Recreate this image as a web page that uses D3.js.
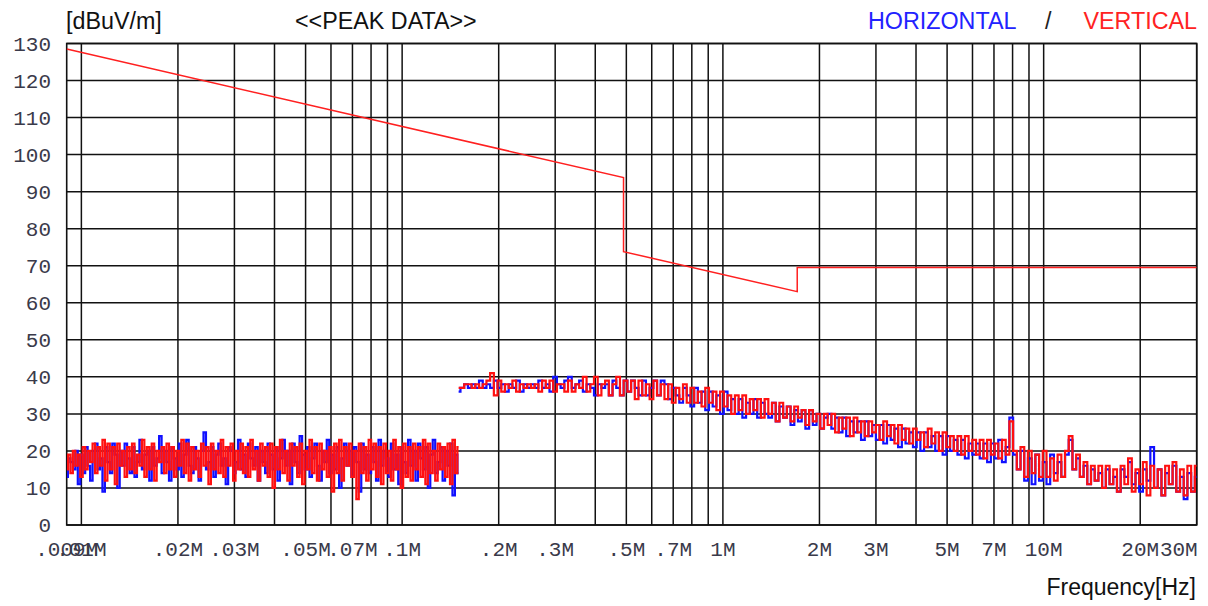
<!DOCTYPE html>
<html><head><meta charset="utf-8">
<script src="https://cdn.jsdelivr.net/npm/d3@7"></script>
<style>body{margin:0;background:#fff}svg{display:block}</style>
</head><body>
<script>
// ---- data ----
const yTickValues = [0,10,20,30,40,50,60,70,80,90,100,110,120,130];
const gridFreqs = [10e3,20e3,30e3,40e3,50e3,60e3,70e3,80e3,90e3,100e3,200e3,300e3,400e3,500e3,600e3,700e3,800e3,900e3,1e6,2e6,3e6,4e6,5e6,6e6,7e6,8e6,9e6,10e6,20e6,30e6];
const xTickFreqs = [9e3,10e3,20e3,30e3,50e3,70e3,100e3,200e3,300e3,500e3,700e3,1e6,2e6,3e6,5e6,7e6,10e6,20e6,30e6];
const xTickLabels = [".009M",".01M",".02M",".03M",".05M",".07M",".1M",".2M",".3M",".5M",".7M","1M","2M","3M","5M","7M","10M","20M","30M"];
const limitFreqs = [9e3,490e3,490e3,1705e3,1705e3,30e6];
const limitValues = [128.5,93.8,73.8,63.0,69.5,69.5];
// sweep 1: 9 kHz - 150 kHz, sweep 2: 150 kHz - 30 MHz
const sweep1 = [9e3,150e3];
const sweep2 = [150e3,30e6];
const horizontal1 = [
13,18,17,15,20,11,19,14,21,16,12,20,22,15,18,9,21,17,14,22,
19,10,20,16,22,18,14,21,13,17,23,15,19,20,12,21,16,18,24,14,
20,17,12,21,18,15,22,13,19,23,16,14,21,18,12,20,25,15,17,21,
13,19,22,16,18,11,21,20,14,17,23,15,19,13,22,18,16,21,12,20,
17,14,22,19,15,21,12,18,23,16,20,11,22,17,14,24,19,15,21,13,
18,22,16,12,20,17,23,14,19,15,21,10,18,22,16,20,13,21,17,9,
22,15,19,14,21,17,12,23,16,20,18,13,22,15,19,11,21,17,14,23,
16,20,12,22,18,15,21,10,19,23,14,17,21,12,20,16,22,8,19,14];
const vertical1 = [
15,19,14,20,16,19,13,21,15,20,17,22,14,21,16,23,12,22,15,21,
11,22,16,20,13,21,15,22,14,19,16,23,13,21,15,22,12,20,17,21,
14,22,15,21,13,20,16,23,14,22,12,21,15,20,13,22,16,21,11,22,
15,20,14,23,13,21,16,22,12,20,15,22,14,21,13,23,15,20,12,22,
16,21,13,22,10,21,15,23,14,20,12,22,16,21,13,22,11,20,15,23,
14,21,12,22,15,20,13,21,9,22,14,23,12,21,16,22,13,20,7,22,
14,21,12,23,15,22,13,21,11,22,14,20,12,23,15,21,10,22,13,21,
12,22,15,21,13,23,11,22,14,20,12,22,15,21,13,22,11,23,14,21];
const horizontal2 = [
36,37,38,37,38,37,39,37,38,37,39,37,38,36,38,37,39,36,38,37,
38,37,39,37,38,36,40,38,37,39,40,37,38,39,36,38,37,35,38,37,
38,35,39,37,35,39,36,39,37,35,39,35,37,39,35,39,38,34,37,35,
33,37,35,32,37,33,36,31,36,32,35,30,36,31,34,30,34,29,33,30,
34,29,33,30,29,33,28,32,29,32,27,31,28,31,26,31,27,30,26,29,
30,26,29,25,29,24,28,25,28,23,28,24,27,23,27,22,27,23,26,21,
26,22,25,21,25,20,25,21,24,20,24,19,24,20,23,19,23,18,22,19,
22,18,22,17,22,18,23,17,21,29,19,15,20,12,18,11,19,12,17,11,
19,14,17,13,19,23,15,18,13,16,11,15,12,14,10,15,11,13,9,15,
13,17,11,14,9,15,12,21,10,15,8,14,11,16,9,13,7,14,9,13];
const vertical2 = [
37,37,38,38,37,38,37,38,39,41,35,39,36,38,37,39,36,38,37,38,
37,38,36,39,37,39,36,38,38,36,39,36,38,37,40,36,38,40,35,38,
39,35,38,40,35,39,36,39,34,39,35,38,34,39,35,38,34,38,33,37,
34,38,33,37,33,36,32,37,33,36,31,36,32,35,30,35,31,35,30,34,
31,34,29,34,30,33,28,33,29,32,28,32,29,31,27,31,28,30,26,30,
27,30,25,29,26,29,24,29,25,28,24,28,25,27,23,28,24,27,22,27,
23,26,22,26,23,25,21,26,22,25,20,25,21,24,20,24,19,24,20,23,
19,23,18,23,19,22,18,23,19,28,20,15,21,13,20,14,19,13,20,13,
18,12,19,13,20,24,15,19,13,17,11,16,12,16,10,16,11,15,9,16,
11,18,9,15,11,17,8,16,10,15,8,16,11,17,9,15,8,16,9,16];

// ---- chart ----
const W = 1208, H = 606;
const L = 66.7, R = 1196.7, T = 43.5, B = 525;
const svg = d3.select("body").append("svg").attr("width", W).attr("height", H);
svg.append("rect").attr("width", W).attr("height", H).attr("fill", "#fff");

const x = d3.scaleLog().domain([9e3, 30e6]).range([L, R]);
const y = d3.scaleLinear().domain([0, 130]).range([B, T]);

function sweepPoints(range, vals) {
  const n = vals.length;
  return vals.map((v, i) => [range[0] * Math.pow(range[1] / range[0], i / (n - 1)), v]);
}

// grid
const g = svg.append("g");
g.selectAll("line.h").data(yTickValues).join("line")
  .attr("x1", L).attr("x2", R).attr("y1", d => y(d)).attr("y2", d => y(d))
  .attr("stroke", "#111").attr("stroke-width", 1.5);
g.selectAll("line.v").data(gridFreqs).join("line")
  .attr("x1", d => x(d)).attr("x2", d => x(d)).attr("y1", T).attr("y2", B)
  .attr("stroke", "#111").attr("stroke-width", 1.5);
g.append("rect").attr("x", L).attr("y", T).attr("width", R - L).attr("height", B - T)
  .attr("fill", "none").attr("stroke", "#111").attr("stroke-width", 1.6);

svg.append("clipPath").attr("id", "clip").append("rect")
  .attr("x", L).attr("y", T).attr("width", R - L).attr("height", B - T);
const plot = svg.append("g").attr("clip-path", "url(#clip)");
const stepLine = d3.line().x(d => x(d[0])).y(d => y(d[1])).curve(d3.curveStep);
const line = d3.line().x(d => x(d[0])).y(d => y(d[1]));

[[horizontal1, sweep1, "#1010ff"], [horizontal2, sweep2, "#1010ff"],
 [vertical1, sweep1, "#ff1010"], [vertical2, sweep2, "#ff1010"]].forEach(([vals, rng, col]) => {
  plot.append("path").attr("d", stepLine(sweepPoints(rng, vals)))
    .attr("fill", "none").attr("stroke", col).attr("stroke-width", 2.2);
});

plot.append("path").attr("d", line(limitFreqs.map((f, i) => [f, limitValues[i]])))
  .attr("fill", "none").attr("stroke", "#ff2020").attr("stroke-width", 1.5);

// axis labels
const mono = "'Liberation Mono', 'DejaVu Sans Mono', monospace";
const sans = "'Liberation Sans', Arial, sans-serif";
svg.append("g").selectAll("text").data(yTickValues).join("text")
  .attr("x", 51).attr("y", d => y(d) + 7).attr("text-anchor", "end")
  .attr("font-family", mono).attr("font-size", 21).attr("fill", "#3a3a4a")
  .text(d => d);
svg.append("g").selectAll("text").data(xTickFreqs).join("text")
  .attr("x", (d, i) => i === xTickFreqs.length - 1 ? R + 1 : x(d))
  .attr("y", 556)
  .attr("text-anchor", (d, i) => i === xTickFreqs.length - 1 ? "end" : "middle")
  .attr("font-family", mono).attr("font-size", 21).attr("fill", "#3a3a4a")
  .text((d, i) => xTickLabels[i]);

const hdr = svg.append("g").attr("font-family", sans).attr("font-size", 23.3);
hdr.append("text").attr("x", 66).attr("y", 29).attr("fill", "#111").text("[dBuV/m]");
hdr.append("text").attr("x", 295).attr("y", 29).attr("fill", "#111").text("<<PEAK DATA>>");
hdr.append("text").attr("x", 868).attr("y", 29).attr("fill", "#2222ff").text("HORIZONTAL");
hdr.append("text").attr("x", 1045).attr("y", 29).attr("fill", "#222").text("/");
hdr.append("text").attr("x", 1197).attr("y", 29).attr("text-anchor", "end").attr("fill", "#ff2222").text("VERTICAL");
svg.append("text").attr("x", 1196).attr("y", 595).attr("text-anchor", "end")
  .attr("font-family", sans).attr("font-size", 23).attr("fill", "#111").text("Frequency[Hz]");
</script>
</body></html>
